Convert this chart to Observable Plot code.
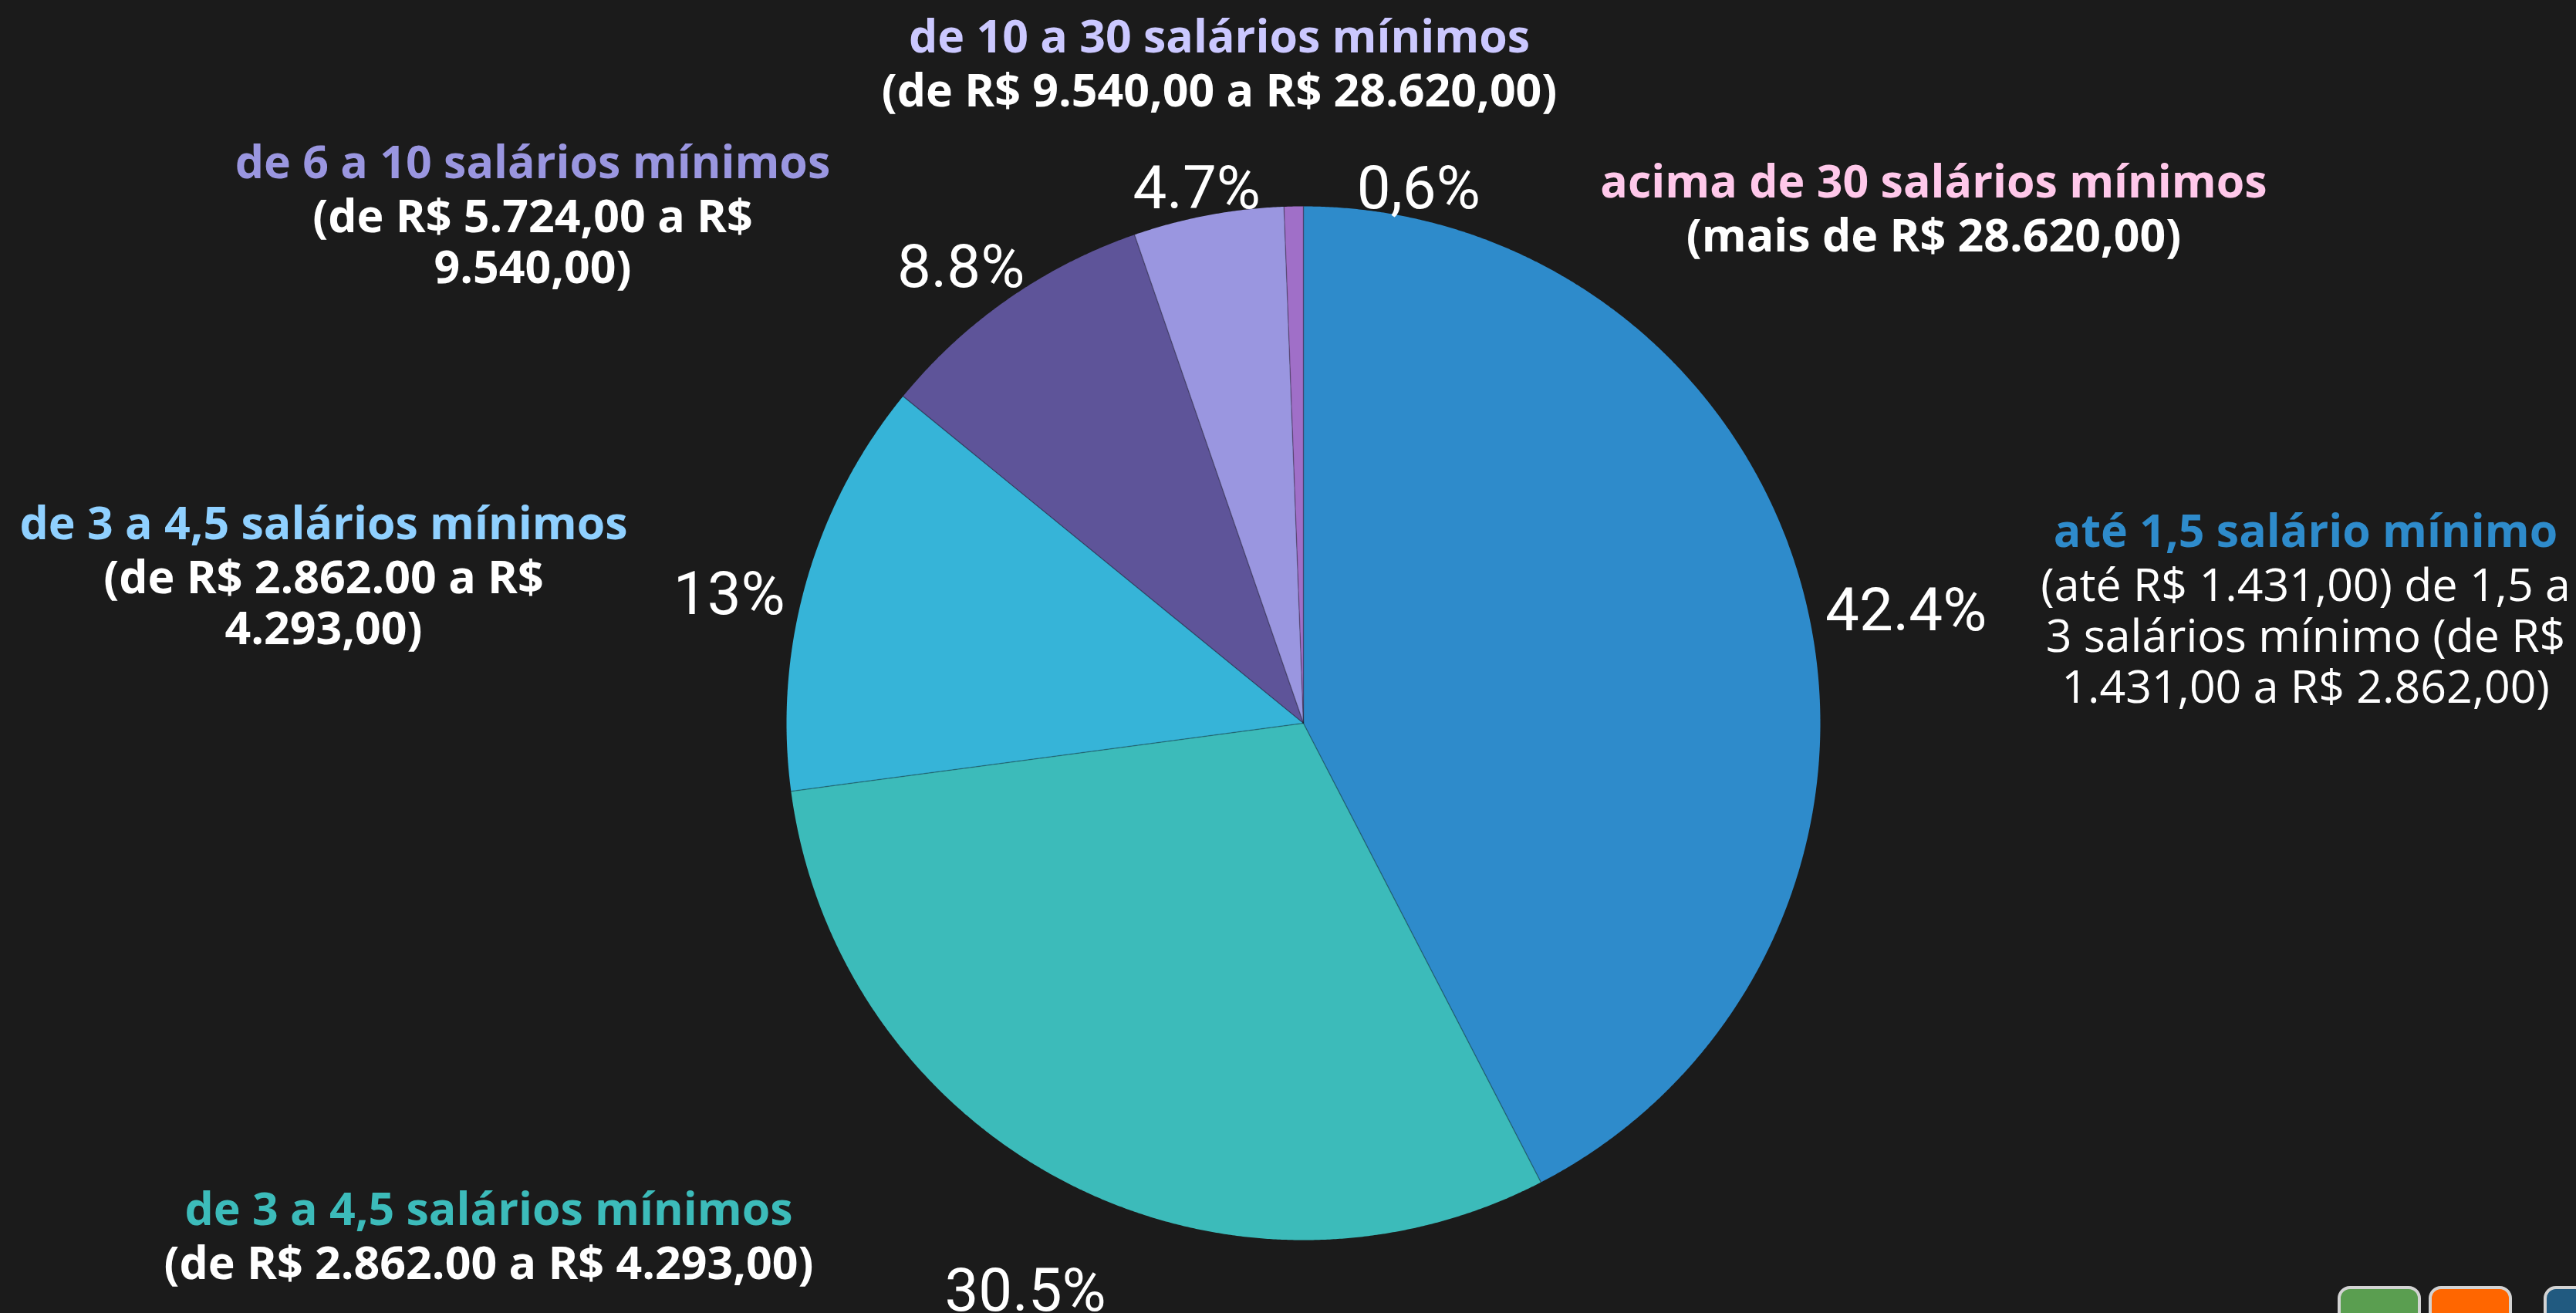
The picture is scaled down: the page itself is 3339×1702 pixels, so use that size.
<!DOCTYPE html>
<html>
<head>
<meta charset="utf-8">
<script src="https://cdn.jsdelivr.net/npm/d3@7"></script>
<script src="https://cdn.jsdelivr.net/npm/@observablehq/plot@0.6"></script>
<style>
  html, body { margin: 0; padding: 0; background: #1b1b1b; overflow: hidden; }
  #chart { position: absolute; left: 0; top: 0; }
  .btn { position: absolute; top: 1667px; height: 80px; box-sizing: border-box;
         border: 4px solid #d3d3d3; border-radius: 16px; }
</style>
</head>
<body>
<div id="chart"></div>
<div class="btn" style="left:3030px;width:108px;background:#5a9e50"></div>
<div class="btn" style="left:3148px;width:108px;background:#ff6600"></div>
<div class="btn" style="left:3297px;width:80px;background:#215a80"></div>
<script>
// ---------- data ----------
const categories = [
  "até 1,5 salário mínimo",
  "de 3 a 4,5 salários mínimos",
  "de 3 a 4,5 salários mínimos",
  "de 6 a 10 salários mínimos",
  "de 10 a 30 salários mínimos",
  "acima de 30 salários mínimos"
];
const values = [42.4, 30.5, 13, 8.8, 4.7, 0.6];
const pctLabels = ["42.4%", "30.5%", "13%", "8.8%", "4.7%", "0,6%"];
const descriptions = [
  "(até R$ 1.431,00) de 1,5 a\n3 salários mínimo (de R$\n1.431,00 a R$ 2.862,00)",
  "(de R$ 2.862.00 a R$ 4.293,00)",
  "(de R$ 2.862.00 a R$\n4.293,00)",
  "(de R$ 5.724,00 a R$\n9.540,00)",
  "(de R$ 9.540,00 a R$ 28.620,00)",
  "(mais de R$ 28.620,00)"
];

// ---------- styles / layout ----------
const sliceColors = ["#2e8bcb", "#3cbbba", "#36b4d8", "#5e5499", "#9a96e0", "#a06fc8"];
const headColors  = ["#2e8bcb", "#3cbbba", "#8fd0ff", "#9a96e0", "#cbc8ff", "#ffc8ea"];
const bodyWeights = [400, 700, 700, 700, 700, 700];
// annotation anchor: centre x and first-line baseline, in page pixels
const annotationAnchors = [
  {cx: 2988, base: 708},
  {cx: 633,  base: 1587},
  {cx: 419,  base: 698},
  {cx: 690,  base: 230},
  {cx: 1580, base: 67},
  {cx: 2506, base: 255}
];

const W = 3339, H = 1702, R = 670, CX = 1689, CY = 937;
const ANN_SIZE = 59, LINE = 66, PCT_SIZE = 78;
const toX = px => (px - CX) / R;
const toY = py => (CY - py) / R;

// ---------- geometry from the values ----------
const arcs = d3.pie().sort(null).value(d => d)(values);
const sliceRows = arcs.flatMap((a, i) => {
  const n = Math.max(2, Math.ceil((a.endAngle - a.startAngle) / 0.004));
  const pts = [{key: i, x: 0, y: 0}];
  for (let k = 0; k <= n; k++) {
    const t = a.startAngle + (a.endAngle - a.startAngle) * k / n;
    pts.push({key: i, x: Math.sin(t), y: Math.cos(t)});
  }
  return pts;
});
const edgeRows = arcs.map(a => ({x2: Math.sin(a.startAngle), y2: Math.cos(a.startAngle)}));

// percentage labels: placed outside the arc along each slice's mid-angle
const ctx = document.createElement("canvas").getContext("2d");
ctx.font = `400 ${PCT_SIZE}px Roboto`;
const pctRows = arcs.map((a, i) => {
  const th = (a.startAngle + a.endAngle) / 2;
  const s = Math.sin(th), c = Math.cos(th);
  const hw = ctx.measureText(pctLabels[i]).width / 2;
  const r = R + 22 + Math.abs(s) * hw + Math.abs(c) * 44;
  return {px: CX + r * s, py: CY - r * c + 45, hw, text: pctLabels[i]};
});
for (let i = 1; i < pctRows.length; i++) {
  const p = pctRows[i - 1], q = pctRows[i];
  if (Math.abs(p.py - q.py) < PCT_SIZE && q.px - q.hw < p.px + p.hw) {
    q.px = p.px + p.hw + 1.6 * PCT_SIZE + q.hw;
  }
}

// ---------- annotation marks ----------
const annMarks = categories.flatMap((cat, i) => {
  const a = annotationAnchors[i];
  return [
    Plot.text([cat], {
      x: () => toX(a.cx), y: () => toY(a.base - 0.71 * ANN_SIZE), text: d => d,
      lineAnchor: "top", textAnchor: "middle",
      fill: headColors[i], fontSize: ANN_SIZE, fontWeight: 700, fontFamily: "Open Sans"
    }),
    Plot.text([descriptions[i]], {
      x: () => toX(a.cx), y: () => toY(a.base + LINE - 0.71 * ANN_SIZE), text: d => d,
      lineAnchor: "top", textAnchor: "middle", lineHeight: LINE / ANN_SIZE,
      fill: "#ffffff", fontSize: ANN_SIZE, fontWeight: bodyWeights[i], fontFamily: "Open Sans"
    })
  ];
});

const chart = Plot.plot({
  width: W,
  height: H,
  marginLeft: CX - R,
  marginRight: W - CX - R,
  marginTop: CY - R,
  marginBottom: H - CY - R,
  x: {domain: [-1, 1], axis: null},
  y: {domain: [-1, 1], axis: null},
  color: {type: "ordinal", domain: d3.range(values.length), range: sliceColors},
  style: {background: "#1b1b1b", color: "#ffffff", overflow: "visible"},
  marks: [
    Plot.line(sliceRows, {x: "x", y: "y", z: "key", fill: "key", stroke: "none", curve: "linear-closed"}),
    Plot.link(edgeRows, {x1: 0, y1: 0, x2: "x2", y2: "y2", stroke: "#000000", strokeOpacity: 0.28, strokeWidth: 1.5}),
    Plot.text(pctRows, {
      x: d => toX(d.px), y: d => toY(d.py), text: "text",
      fill: "#ffffff", fontSize: PCT_SIZE, fontWeight: 400, fontFamily: "Roboto", textAnchor: "middle"
    }),
    ...annMarks
  ]
});
document.getElementById("chart").appendChild(chart);
</script>
</body>
</html>
